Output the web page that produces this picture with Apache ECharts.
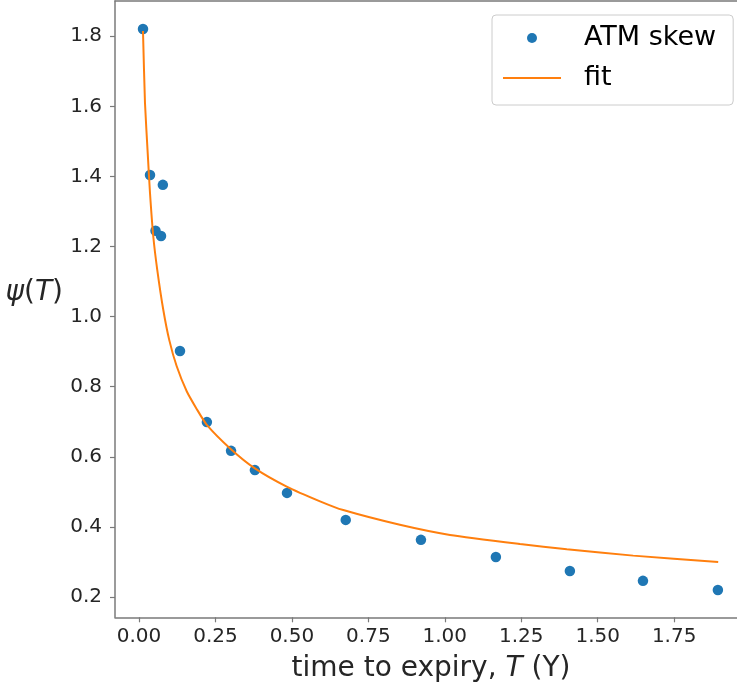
<!DOCTYPE html>
<html>
<head>
<meta charset="utf-8">
<script src="https://cdn.jsdelivr.net/npm/echarts@6/dist/echarts.min.js"></script>
<style>
  html, body { margin: 0; padding: 0; background: #ffffff; }
  #chart { width: 737px; height: 689px; }
</style>
</head>
<body>
<div id="chart"></div>
<script>
// Observed at-the-money skew by time to expiry (years)
const expiryT = [0.013, 0.036, 0.078, 0.054, 0.072, 0.134, 0.222, 0.301, 0.379, 0.484, 0.676, 0.922, 1.167, 1.409, 1.648, 1.893];
const atmSkew = [1.821, 1.404, 1.376, 1.245, 1.230, 0.902, 0.699, 0.617, 0.562, 0.497, 0.420, 0.363, 0.314, 0.274, 0.246, 0.220];

// Fitted curve, sampled along T
const fitT   = [0.013, 0.0196, 0.0285, 0.036, 0.0468, 0.0598, 0.0795, 0.099, 0.123, 0.156, 0.189, 0.221, 0.298, 0.379, 0.483, 0.592, 0.668, 0.853, 1.017, 1.246, 1.399, 1.616, 1.894];
const fitPsi = [1.815, 1.609, 1.466, 1.352, 1.228, 1.133, 1.019, 0.933, 0.859, 0.787, 0.736, 0.692, 0.624, 0.567, 0.515, 0.473, 0.448, 0.406, 0.377, 0.351, 0.336, 0.318, 0.300];

// Tick positions
const xTicks = [0, 0.25, 0.5, 0.75, 1.0, 1.25, 1.5, 1.75];
const yTicks = [0.2, 0.4, 0.6, 0.8, 1.0, 1.2, 1.4, 1.6, 1.8];

const FONT = 'DejaVu Sans';
const SPINE = '#7a7a7a';
const TEXT = '#262626';
const X_MIN = -0.0785, X_MAX = 1.9555;

const chart = echarts.init(document.getElementById('chart'), null, { renderer: 'canvas' });

const spineLine = { show: true, onZero: false, lineStyle: { color: SPINE, width: 1.5 } };
const tickStyle = { color: SPINE, width: 1.2 };

chart.setOption({
  backgroundColor: '#ffffff',
  animation: false,
  grid: { left: 115, top: 1, right: 0, height: 616.3 },
  xAxis: [
    {
      type: 'value', min: X_MIN, max: X_MAX,
      splitLine: { show: false },
      axisLine: spineLine,
      axisTick: { show: true, length: 5, customValues: xTicks, lineStyle: tickStyle },
      axisLabel: {
        customValues: xTicks, margin: 9,
        fontFamily: FONT, fontSize: 20, color: TEXT,
        formatter: v => v.toFixed(2)
      }
    },
    {
      // top spine only
      type: 'value', position: 'top', min: X_MIN, max: X_MAX,
      splitLine: { show: false },
      axisLine: spineLine,
      axisTick: { show: false },
      axisLabel: { show: false }
    }
  ],
  yAxis: {
    type: 'value', min: 0.142, max: 1.9007,
    splitLine: { show: false },
    axisLine: spineLine,
    axisTick: { show: true, length: 5, customValues: yTicks, lineStyle: tickStyle },
    axisLabel: {
      customValues: yTicks, margin: 13,
      fontFamily: FONT, fontSize: 20, color: TEXT,
      formatter: v => v.toFixed(1)
    }
  },
  legend: {
    orient: 'vertical',
    left: 492, top: 15,
    padding: [9, 17, 13, 10],
    itemWidth: 58, itemHeight: 10, itemGap: 12,
    backgroundColor: 'rgba(255,255,255,0.8)',
    borderColor: '#cccccc', borderWidth: 1, borderRadius: 4,
    textStyle: { fontFamily: FONT, fontSize: 27, lineHeight: 28, color: '#000000', padding: [0, 0, 0, 18] },
    data: [
      { name: 'ATM skew' },
      { name: 'fit', itemStyle: { color: 'transparent', borderColor: 'transparent', borderWidth: 0, opacity: 0 } }
    ]
  },
  series: [
    {
      name: 'ATM skew',
      type: 'scatter',
      symbol: 'circle',
      symbolSize: 10.5,
      itemStyle: { color: '#1f77b4', opacity: 1 },
      data: expiryT.map((t, i) => [t, atmSkew[i]]),
      z: 2
    },
    {
      name: 'fit',
      type: 'line',
      symbol: 'none',
      showSymbol: false,
      smooth: 0.2,
      lineStyle: { color: '#ff7f0e', width: 2 },
      itemStyle: { color: '#ff7f0e' },
      data: fitT.map((t, i) => [t, fitPsi[i]]),
      z: 3
    }
  ],
  graphic: [
    {
      type: 'text',
      x: 431, y: 669,
      style: {
        text: '{n|time to expiry, }{i|T}{n| (Y)}',
        align: 'center', verticalAlign: 'middle',
        fontFamily: FONT, fontSize: 28, fill: TEXT,
        rich: {
          n: { fontFamily: FONT, fontSize: 28, fill: TEXT },
          i: { fontFamily: FONT, fontSize: 28, fontStyle: 'italic', fill: TEXT }
        }
      }
    },
    {
      type: 'text',
      x: 63, y: 293,
      style: {
        text: '{i|ψ}{n|(}{i|T}{n|)}',
        align: 'right', verticalAlign: 'middle',
        fontFamily: FONT, fontSize: 28, fill: TEXT,
        rich: {
          n: { fontFamily: FONT, fontSize: 28, fill: TEXT },
          i: { fontFamily: FONT, fontSize: 28, fontStyle: 'italic', fill: TEXT }
        }
      }
    }
  ]
});
</script>
</body>
</html>
